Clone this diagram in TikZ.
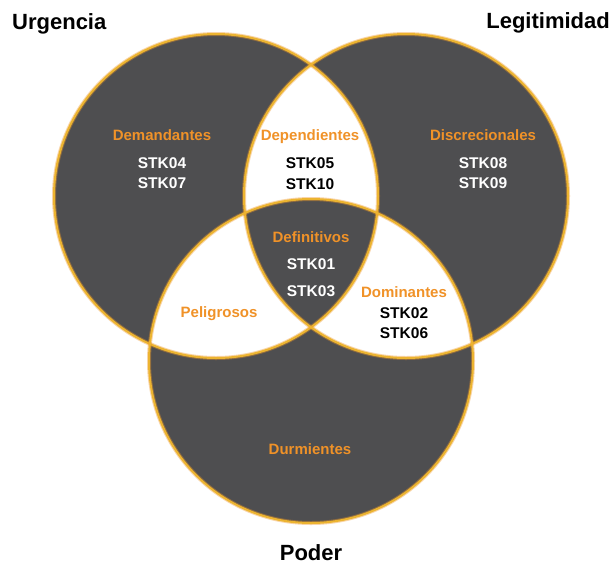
\documentclass[tikz,border=0pt]{standalone}
\usepackage{fontspec}
\setmainfont{Liberation Sans}
\definecolor{setgray}{RGB}{78,78,80}
\definecolor{rimgold}{RGB}{236,180,48}
\definecolor{rimglow}{RGB}{240,150,40}
\definecolor{lblorange}{RGB}{240,146,40}
\begin{document}
\begin{tikzpicture}[x=1pt,y=-1pt,
  title/.style={font=\bfseries\fontsize{22}{25}\selectfont,text=black,inner sep=0pt},
  region/.style={font=\bfseries\fontsize{15}{17}\selectfont,text=lblorange,anchor=base,inner sep=0pt},
  stkw/.style={font=\bfseries\fontsize{15.5}{17}\selectfont,text=white,anchor=base,inner sep=0pt},
  stkb/.style={font=\bfseries\fontsize{15.5}{17}\selectfont,text=black,anchor=base,inner sep=0pt},
  rimglowline/.style={draw=rimglow,line width=4pt,opacity=0.4},
  rimline/.style={draw=rimgold,line width=2pt}]
\useasboundingbox (0,0) rectangle (612,566);
\fill[white] (0,0) rectangle (612,566);

% centres of the three sets
\coordinate (urg) at (216,196);
\coordinate (leg) at (406,196);
\coordinate (pod) at (311,361);

% odd overlaps are dark, pairwise overlaps stay white
\fill[setgray,even odd rule] (urg) circle (162pt) (leg) circle (162pt) (pod) circle (162pt);

% golden rims
\foreach \c in {urg,leg,pod}{
  \draw[rimglowline] (\c) circle (162pt);
  \draw[rimline] (\c) circle (162pt);
}

% set names
\node[title,anchor=base west] (tUrg) at (12,29) {Urgencia};
\node[title,anchor=base east] (tLeg) at (610,28) {Legitimidad};
\node[title,anchor=base] (tPod) at (311,560) {Poder};

% Demandantes
\node[region] (demL) at (162,140) {Demandantes};
\node[stkw] (stk04) at (162,168) {STK04};
\node[stkw] (stk07) at (162,188) {STK07};

% Discrecionales
\node[region] (disL) at (483,140) {Discrecionales};
\node[stkw] (stk08) at (483,168) {STK08};
\node[stkw] (stk09) at (483,188) {STK09};

% Dependientes
\node[region] (depL) at (310,140) {Dependientes};
\node[stkb] (stk05) at (310,168) {STK05};
\node[stkb] (stk10) at (310,189) {STK10};

% Definitivos
\node[region] (defL) at (311,242) {Definitivos};
\node[stkw] (stk01) at (311,269) {STK01};
\node[stkw] (stk03) at (311,296) {STK03};

% Dominantes
\node[region] (domL) at (404,297) {Dominantes};
\node[stkb] (stk02) at (404,318) {STK02};
\node[stkb] (stk06) at (404,338) {STK06};

% Peligrosos
\node[region] (pelL) at (219,317) {Peligrosos};

% Durmientes
\node[region] (durL) at (310,454) {Durmientes};
\end{tikzpicture}
\end{document}
